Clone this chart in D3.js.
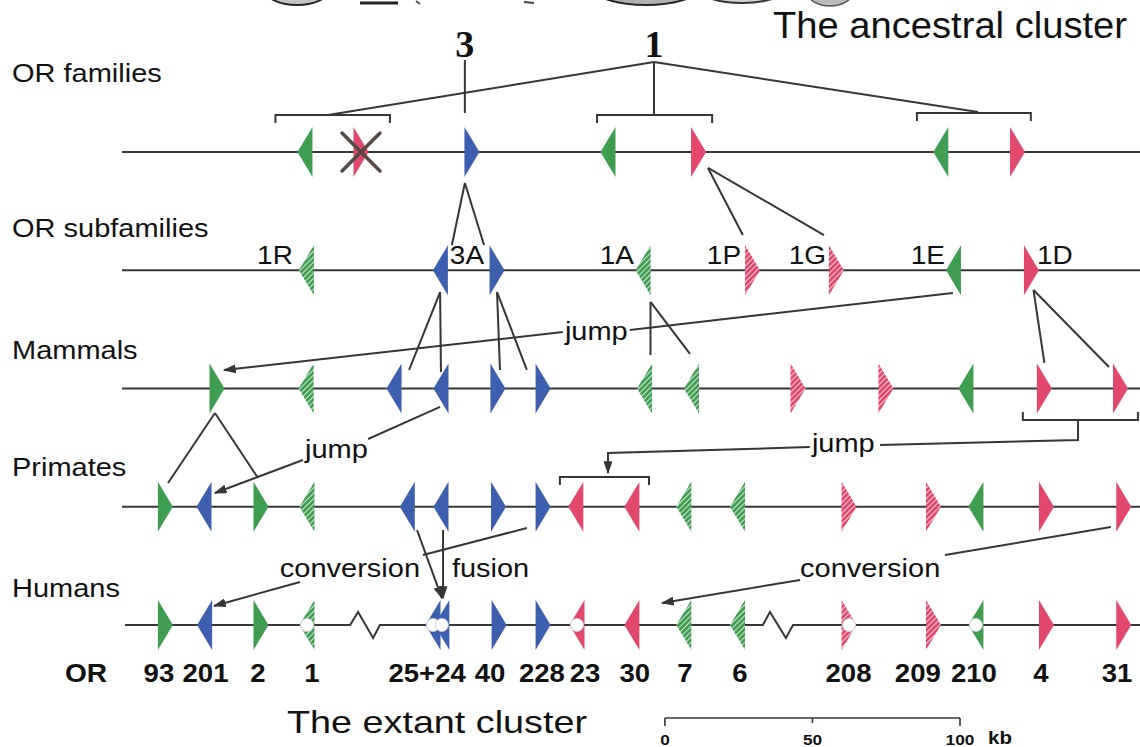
<!DOCTYPE html>
<html><head><meta charset="utf-8">
<script src="https://cdn.jsdelivr.net/npm/d3@7"></script>
<style>body{margin:0;background:#fff}svg{display:block}text{fill:#111}</style>
</head><body><svg id="c" width="1140" height="747"></svg>
<script>
// ---------------- DATA ----------------
const rowNames = ["OR families", "OR subfamilies", "Mammals", "Primates", "Humans"];
// gene: [position kb, family colour G/R/B, direction L/R, hatched 0/1, pseudogene circle 0/1]
const ancestralGenes = [[62.0,"G","L",0,0],[81.0,"R","R",0,0],[118.6,"B","R",0,0],[164.7,"G","L",0,0],[195.4,"R","R",0,0],[277.5,"G","L",0,0],[303.5,"R","R",0,0]];
const deletedGenes = [81.0];
const subfamilyGenes = [[62.5,"G","L",1,0],[107.9,"B","L",0,0],[127.1,"B","R",0,0],[176.6,"G","L",1,0],[213.7,"R","R",1,0],[242.1,"R","R",1,0],[281.8,"G","L",0,0],[308.2,"R","R",0,0]];
const subfamilyLabels = [["1R",57.9,"end"],["3A",116.9,"middle"],["1A",173.5,"end"],["1P",209.8,"end"],["1G",238.6,"end"],["1E",278.9,"end"],["1D",310.1,"start"]];
const mammalGenes = [[32.2,"G","R",0,0],[62.4,"G","L",1,0],[92.2,"B","L",0,0],[108.1,"B","L",0,0],[127.4,"B","R",0,0],[142.7,"B","R",0,0],[177.1,"G","L",1,0],[193.0,"G","L",1,0],[229.1,"R","R",1,0],[258.9,"R","R",1,0],[286.0,"G","L",0,0],[312.6,"R","R",0,0],[338.4,"R","R",0,0]];
const primateGenes = [[14.7,"G","R",0,0],[27.8,"B","L",0,0],[47.1,"G","R",0,0],[62.7,"G","L",1,0],[96.7,"B","L",0,0],[108.1,"B","L",0,0],[127.6,"B","R",0,0],[142.7,"B","R",0,0],[153.8,"R","L",0,0],[172.8,"R","L",0,0],[190.4,"G","L",1,0],[208.6,"G","L",1,0],[246.4,"R","R",1,0],[275.0,"R","R",1,0],[289.4,"G","L",0,0],[313.3,"R","R",0,0],[339.5,"R","R",0,0]];
const humanGenes = [[14.7,"G","R",0,0],[28.0,"B","L",0,0],[47.1,"G","R",0,0],[62.7,"G","L",1,1],[105.4,"B","L",0,1],[108.4,"B","L",0,1],[127.8,"B","R",0,0],[142.7,"B","R",0,0],[154.2,"R","L",0,1],[172.8,"R","L",0,0],[190.4,"G","L",1,0],[208.6,"G","L",1,0],[246.4,"R","R",1,1],[275.0,"R","R",1,0],[289.4,"G","L",0,1],[313.3,"R","R",0,0],[339.5,"R","R",0,0]];
const humanLabels = [["93",12.5],["201",28.3],["2",46.1],["1",64.4],["25+24",103.4],["40",124.7],["228",142.3],["23",156.9],["30",173.8],["7",190.8],["6",209.4],["208",246.2],["209",269.7],["210",288.7],["4",311.4],["31",337.2]];
const humanBreaks = [[77.3,80.0,85.1,87.4],[217.2,219.6,225.0,227.4]];
// family labels: [text, kb]
const familyLabels = [["3",116.2],["1",180.3]];
// tree links: [kb1,row1,kb2,row2]
const treeLinks = [
  [116.2,-0.778,116.2,-0.330],
  [180.3,-0.761,69.8,-0.313],[180.3,-0.761,180.3,-0.313],[180.3,-0.761,290.1,-0.338],
  [116.2,0.262,111.8,0.786],[116.2,0.262,122.7,0.786],
  [198.6,0.135,210.4,0.702],[198.6,0.135,237.9,0.702],
  [107.8,1.184,97.3,1.843],[107.8,1.184,108.1,1.860],
  [127.1,1.184,128.1,1.843],[127.1,1.184,137.2,1.843],
  [179.1,1.268,179.1,1.717],[179.1,1.268,192.5,1.708],
  [308.9,1.167,312.6,1.784],[308.9,1.167,334.5,1.818],
  [31.5,2.207,15.6,2.799],[31.5,2.207,46.1,2.757]
];
// brackets: [kbLeft, kbRight, row, tick direction (1 down, -1 up)]
const brackets = [[52.0,90.8,-0.313,1],[161.0,200.0,-0.313,1],[269.4,308.0,-0.330,1],[305.3,344.3,2.266,-1],[148.4,178.6,2.748,1]];
// fusion arrows
const fusionArrows = [[[100.0,3.197],[108.4,3.772]],[[108.8,3.197],[108.8,3.772]]];
// annotated events
const events = [
  {text:"jump", at:[150.1,1.590], inPath:[[281.6,1.192],[172.1,1.505]], outPath:[[149.4,1.522],[34.6,1.844]]},
  {text:"jump", at:[62.0,2.588], inPath:[[107.8,2.156],[83.4,2.427]], outPath:[[61.3,2.605],[31.5,2.884]]},
  {text:"jump", at:[233.8,2.537], inPath:[[324.0,2.266],[324.0,2.435],[256.9,2.478]], outPath:[[233.1,2.495],[164.7,2.545],[164.7,2.715]]},
  {text:"conversion", at:[53.5,3.594], inPath:[[137.2,3.180],[102.0,3.408]], outPath:[[60.3,3.636],[31.2,3.839]]},
  {text:"fusion", at:[111.8,3.594], inPath:[], outPath:[]},
  {text:"conversion", at:[229.8,3.594], inPath:[[335.1,3.171],[278.9,3.408]], outPath:[[229.8,3.619],[183.0,3.814]]}
];
const scaleTicks = [0, 50, 100];
const scaleOriginKb = 184;
const titles = ["The ancestral cluster", "The extant cluster"];

// ---------------- DRAW ----------------
const svg = d3.select("#c");
const x = d3.scaleLinear().domain([0, 345]).range([122, 1140]);
const y = d3.scaleLinear().domain([0, 4]).range([152, 625]);
const colour = {G:"#3f9d51", R:"#e2476c", B:"#3d5fae"};
const ink = "#363636";
const SANS = "'Liberation Sans', Arial, Helvetica, sans-serif";
const SERIF = "'Liberation Serif', 'Times New Roman', serif";

const defs = svg.append("defs");
Object.entries(colour).forEach(([k,c]) => {
  const p = defs.append("pattern").attr("id","h"+k).attr("patternUnits","userSpaceOnUse")
    .attr("width",3.8).attr("height",3.8).attr("patternTransform","rotate(45)");
  p.append("rect").attr("width",3.8).attr("height",3.8).attr("fill",c);
  p.append("line").attr("x1",0.5).attr("y1",0).attr("x2",0.5).attr("y2",3.8).attr("stroke","#fff").attr("stroke-width",0.9).attr("opacity",0.85);
});
defs.append("marker").attr("id","arr").attr("viewBox","0 0 10 10").attr("refX",9).attr("refY",5)
  .attr("markerWidth",13).attr("markerHeight",9).attr("markerUnits","userSpaceOnUse")
  .attr("preserveAspectRatio","none").attr("orient","auto")
  .append("path").attr("d","M0,0L10,5L0,10z").attr("fill",ink);

function txt(s, px, py, o) {
  return svg.append("text")
    .attr("transform", `translate(${px},${py}) scale(${o.stretch||1},1)`)
    .attr("text-anchor", o.anchor||"start")
    .style("font-size", o.size + "px")
    .style("font-weight", o.weight||"normal")
    .style("font-family", o.family||SANS)
    .text(s);
}

// top cropped artwork remnants
const art = svg.append("g");
art.append("ellipse").attr("cx",297).attr("cy",-8).attr("rx",30).attr("ry",13).attr("fill","#c4c4c4").attr("stroke","#222").attr("stroke-width",2);
art.append("path").attr("d","M360,3 L398,3").attr("stroke","#222").attr("stroke-width",3);
art.append("path").attr("d","M416,1 L420,4").attr("stroke","#555").attr("stroke-width",2);
art.append("path").attr("d","M524,2 L534,3").attr("stroke","#444").attr("stroke-width",2);
art.append("ellipse").attr("cx",646).attr("cy",-10).attr("rx",50).attr("ry",15).attr("fill","#b0b0b0").attr("stroke","#222").attr("stroke-width",2);
art.append("ellipse").attr("cx",742).attr("cy",-11).attr("rx",43).attr("ry",14).attr("fill","#d6d6d6").attr("stroke","#333").attr("stroke-width",2);
art.append("ellipse").attr("cx",830).attr("cy",-7).attr("rx",22).attr("ry",13).attr("fill","#bbb").attr("stroke","#555").attr("stroke-width",1.5);

// titles
txt(titles[0], 773, 38, {size:36, stretch:1.06});
txt(titles[1], 287, 733, {size:32, stretch:1.18});

// row labels
const rowLabelOffset = [-70, -33, -30, -31, -28];
rowNames.forEach((n,i) => txt(n, 12, y(i)+rowLabelOffset[i], {size:25, stretch:1.16}));

// row lines
[0,1,2,3].forEach(i => svg.append("line").attr("x1",x(0)).attr("x2",x(345)).attr("y1",y(i)).attr("y2",y(i)).attr("stroke",ink).attr("stroke-width",2));
{
  const y4 = y(4), amp = 13;
  let d = `M${x(1)},${y4}`;
  humanBreaks.forEach(b => { d += `L${x(b[0])},${y4}L${x(b[1])},${y4-amp}L${x(b[2])},${y4+amp}L${x(b[3])},${y4}`; });
  d += `L${x(345)},${y4}`;
  svg.append("path").attr("d",d).attr("fill","none").attr("stroke",ink).attr("stroke-width",2);
}

// brackets
brackets.forEach(([l,r,row,dir]) => {
  const yy = y(row), t = 8*dir;
  svg.append("path").attr("d",`M${x(l)},${yy+t}L${x(l)},${yy}L${x(r)},${yy}L${x(r)},${yy+t}`).attr("fill","none").attr("stroke",ink).attr("stroke-width",2);
});

// tree links
treeLinks.forEach(([a,r1,b,r2]) => svg.append("line").attr("x1",x(a)).attr("y1",y(r1)).attr("x2",x(b)).attr("y2",y(r2)).attr("stroke",ink).attr("stroke-width",2));

// family labels
familyLabels.forEach(([s,kb]) => txt(s, x(kb), 57, {size:38, weight:"bold", anchor:"middle", family:SERIF}));

// genes
const line = d3.line().x(p=>p[0]).y(p=>p[1]);
function drawGenes(genes, row) {
  const cy = y(row), hh = 25, hw = 7.5;
  const g = svg.append("g");
  g.selectAll("path").data(genes).join("path")
    .attr("d", d => {
      const cx = x(d[0]), s = d[2]==="R" ? 1 : -1;
      return line([[cx - s*hw, cy-hh],[cx + s*hw, cy],[cx - s*hw, cy+hh]]) + "Z";
    })
    .attr("fill", d => d[3] ? `url(#h${d[1]})` : colour[d[1]]);
  g.selectAll("circle").data(genes.filter(d=>d[4])).join("circle")
    .attr("cx", d => x(d[0])).attr("cy", cy).attr("r", 6.5)
    .attr("fill","#fff").attr("stroke","#cfcfcf").attr("stroke-width",0.8);
}
drawGenes(ancestralGenes, 0);
drawGenes(subfamilyGenes, 1);
drawGenes(mammalGenes, 2);
drawGenes(primateGenes, 3);
drawGenes(humanGenes, 4);

// deleted gene cross
deletedGenes.forEach(kb => {
  const cx = x(kb), cy = y(0), s = 19;
  svg.append("path").attr("d",`M${cx-s},${cy-s}L${cx+s},${cy+s}M${cx+s},${cy-s}L${cx-s},${cy+s}`)
    .attr("stroke","#574848").attr("stroke-width",3.5).attr("stroke-linecap","round");
});

// subfamily labels
subfamilyLabels.forEach(([s,kb,anc]) => txt(s, x(kb), y(1)-6, {size:25, anchor:anc, stretch:1.12}));

// events
const pl = d3.line().x(p=>x(p[0])).y(p=>y(p[1]));
events.forEach(e => {
  txt(e.text, x(e.at[0]), y(e.at[1]), {size:25, stretch:1.16});
  if (e.inPath.length) svg.append("path").attr("d",pl(e.inPath)).attr("fill","none").attr("stroke",ink).attr("stroke-width",2);
  if (e.outPath.length) svg.append("path").attr("d",pl(e.outPath)).attr("fill","none").attr("stroke",ink).attr("stroke-width",2).attr("marker-end","url(#arr)");
});
fusionArrows.forEach(p => svg.append("path").attr("d",pl(p)).attr("fill","none").attr("stroke",ink).attr("stroke-width",2).attr("marker-end","url(#arr)"));

// human OR numbers
txt("OR", 65, 682, {size:26, weight:"bold", stretch:1.08});
humanLabels.forEach(([s,kb]) => txt(s, x(kb), 682, {size:26, weight:"bold", anchor:"middle", stretch:1.06}));

// scale bar
{
  const yb = 718;
  const sx = v => x(scaleOriginKb + v);
  svg.append("line").attr("x1",sx(0)).attr("x2",sx(100)).attr("y1",yb).attr("y2",yb).attr("stroke",ink).attr("stroke-width",1.6);
  scaleTicks.forEach((v,i) => {
    const len = (i===1) ? 5 : 8;
    svg.append("line").attr("x1",sx(v)).attr("x2",sx(v)).attr("y1",yb).attr("y2",yb+len).attr("stroke",ink).attr("stroke-width",1.6);
    txt(String(v), sx(v), 745, {size:15, weight:"bold", anchor:"middle", stretch:1.15});
  });
  txt("kb", sx(100)+28, 744, {size:19, weight:"bold", stretch:1.08});
}
</script></body></html>
